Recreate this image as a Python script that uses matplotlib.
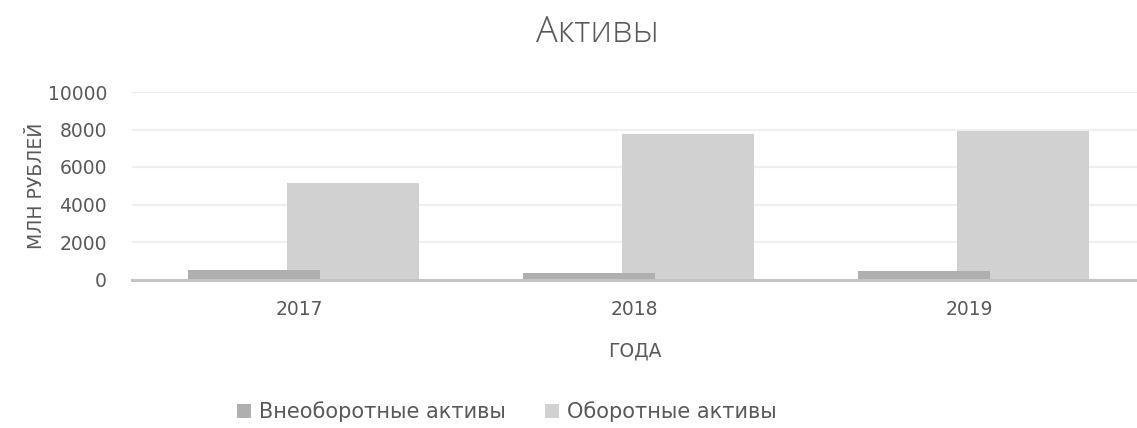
import numpy as np
import matplotlib.pyplot as plt

# Данные
goda = ['2017', '2018', '2019']
vneoborotnye = [510, 330, 450]
oborotnye = [5160, 7740, 7900]
y_ticks = [0, 2000, 4000, 6000, 8000, 10000]

tmavy = '#afafaf'
svetly = '#d1d1d1'
text_col = '#595959'

fig = plt.figure(figsize=(11.37, 4.28), dpi=100)
ax = fig.add_axes([132 / 1137, 148.5 / 428, 1005 / 1137, 187.5 / 428])

x = np.arange(len(goda))
sirka = 0.395
ax.bar(x + 0.16, oborotnye, sirka, color=svetly, label='Оборотные активы', zorder=2)
ax.bar(x - 0.135, vneoborotnye, sirka, color=tmavy, label='Внеоборотные активы', zorder=3)

ax.set_xlim(-0.5, 2.5)
ax.set_ylim(0, 10000)
ax.set_yticks(y_ticks)
ax.set_xticks(x)
ax.set_xticklabels(goda)
ax.grid(axis='y', color='#efefef', linewidth=1.6, zorder=0)
ax.set_axisbelow(True)

for s in ['top', 'right', 'left']:
    ax.spines[s].set_visible(False)
ax.spines['bottom'].set_color('#c4c4c4')
ax.spines['bottom'].set_linewidth(2.2)
ax.spines['bottom'].set_zorder(4)

ax.tick_params(axis='both', length=0, labelsize=13.5, labelcolor=text_col)
ax.tick_params(axis='y', pad=18)
ax.tick_params(axis='x', pad=15)

ax.set_xlabel('ГОДА', fontsize=13.5, color=text_col, labelpad=16)
ax.set_ylabel('МЛН РУБЛЕЙ', fontsize=13.5, color=text_col)
ax.yaxis.set_label_coords(-0.086, 0.5)

fig.text(597 / 1137, 1 - 33 / 428, 'Активы', ha='center', va='center',
         fontsize=26, color=text_col, family='Open Sans', weight='light')

handles, labels = ax.get_legend_handles_labels()
fig.legend(handles[::-1], labels[::-1], loc='center', bbox_to_anchor=(507 / 1137, 1 - 412 / 428),
           ncol=2, frameon=False, fontsize=15, labelcolor=text_col,
           handlelength=0.65, handleheight=0.65, handletextpad=0.4, columnspacing=1.9)

fig.savefig('out.png', dpi=100)
